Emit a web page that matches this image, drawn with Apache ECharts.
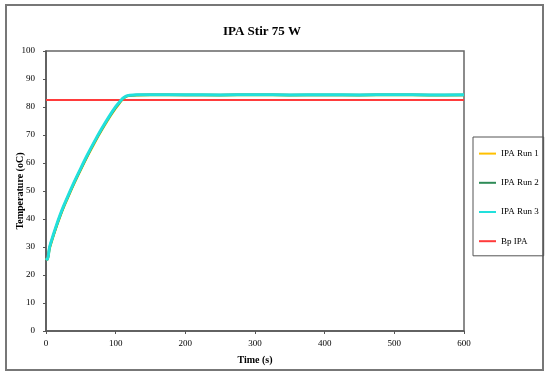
<!DOCTYPE html>
<html><head><meta charset="utf-8">
<script src="https://cdn.jsdelivr.net/npm/echarts@6/dist/echarts.min.js"></script>
<style>html,body{margin:0;padding:0;background:#fff}#c{width:550px;height:378px}</style>
</head><body><div id="c"></div>
<script>
const titleText = "IPA Stir 75 W";
const xName = "Time (s)";
const yName = "Temperature (oC)";
const seriesNames = ["IPA Run 1", "IPA Run 2", "IPA Run 3", "Bp IPA"];
const times = [0,2,5,10,15,20,25,30,40,50,60,70,80,90,100,105,110,115,120,130,150,200,250,300,350,400,450,500,550,600];
const run1 = [26.0,25.5,29.3,33.4,37.2,40.7,43.9,46.8,52.4,57.6,62.6,67.3,71.7,75.8,79.5,81.2,82.8,83.7,84.0,84.2,84.3,84.3,84.2,84.3,84.2,84.3,84.2,84.3,84.2,84.3];
const run2 = [26.0,25.6,29.6,33.7,37.5,41.0,44.2,47.1,52.7,57.9,62.9,67.6,72.0,76.1,79.8,81.4,82.9,83.8,84.1,84.3,84.4,84.3,84.3,84.4,84.3,84.3,84.3,84.4,84.3,84.3];
const run3 = [26.0,25.6,29.8,34.0,37.8,41.3,44.5,47.4,53.0,58.2,63.2,67.9,72.3,76.4,80.1,81.6,83.1,83.9,84.2,84.4,84.4,84.4,84.3,84.4,84.3,84.4,84.3,84.4,84.3,84.4];
const bpTimes = [0, 600];
const bpValue = 82.5;

const zip = (t, v) => t.map((x, i) => [x, v[i]]);
const chart = echarts.init(document.getElementById('c'), null, {renderer: 'canvas'});
const font = "'Liberation Serif', 'Times New Roman', serif";
chart.setOption({
  animation: false,
  backgroundColor: '#fff',
  textStyle: {fontFamily: font},
  title: {text: titleText, left: 257, top: 20, textAlign: 'center',
    textStyle: {fontFamily: font, fontSize: 13, fontWeight: 'bold', color: '#000'}},
  graphic: [{type: 'rect', shape: {x: 6, y: 5, width: 537, height: 365},
    style: {fill: 'none', stroke: '#777', lineWidth: 2}, silent: true}],
  grid: {left: 46, top: 51, right: 86, bottom: 47, show: true, borderColor: '#666', borderWidth: 1.5, backgroundColor: '#fff'},
  legend: {
    orient: 'vertical', left: 473, top: 137, width: 59,
    padding: [11, 5, 9, 5], itemGap: 18, itemWidth: 17, itemHeight: 14,
    borderColor: '#555', borderWidth: 1,
    itemStyle: {opacity: 0},
    lineStyle: {width: 2},
    textStyle: {fontFamily: font, fontSize: 9, color: '#000'},
    data: seriesNames
  },
  xAxis: {
    type: 'value', min: 0, max: 600, interval: 100,
    name: xName, nameLocation: 'middle', nameGap: 24,
    nameTextStyle: {fontFamily: font, fontSize: 10, fontWeight: 'bold', color: '#000'},
    axisLine: {show: true, lineStyle: {color: '#555', width: 1.5}},
    axisTick: {show: true, length: 3, lineStyle: {color: '#555'}},
    axisLabel: {fontFamily: font, fontSize: 9, color: '#000', margin: 8},
    splitLine: {show: false}
  },
  yAxis: {
    type: 'value', min: 0, max: 100, interval: 10,
    name: yName, nameLocation: 'middle', nameGap: 21, nameMoveOverlap: false,
    nameTextStyle: {fontFamily: font, fontSize: 10, fontWeight: 'bold', color: '#000'},
    axisLine: {show: true, lineStyle: {color: '#555', width: 1.5}},
    axisTick: {show: true, length: 3, lineStyle: {color: '#555'}},
    axisLabel: {fontFamily: font, fontSize: 9, color: '#000', margin: 11},
    splitLine: {show: false}
  },
  series: [
    {name: seriesNames[0], type: 'line', data: zip(times, run1), symbol: 'none', smooth: 0.3,
      lineStyle: {color: '#FFC000', width: 2.5}, itemStyle: {color: '#FFC000'}},
    {name: seriesNames[1], type: 'line', data: zip(times, run2), symbol: 'none', smooth: 0.3,
      lineStyle: {color: '#2E8B57', width: 2.5}, itemStyle: {color: '#2E8B57'}},
    {name: seriesNames[2], type: 'line', data: zip(times, run3), symbol: 'none', smooth: 0.3,
      lineStyle: {color: '#22E0DC', width: 3}, itemStyle: {color: '#22E0DC'}},
    {name: seriesNames[3], type: 'line', data: bpTimes.map(t => [t, bpValue]), symbol: 'none',
      lineStyle: {color: '#FF3B3B', width: 2}, itemStyle: {color: '#FF3B3B'}, z: 1}
  ]
});
</script></body></html>
